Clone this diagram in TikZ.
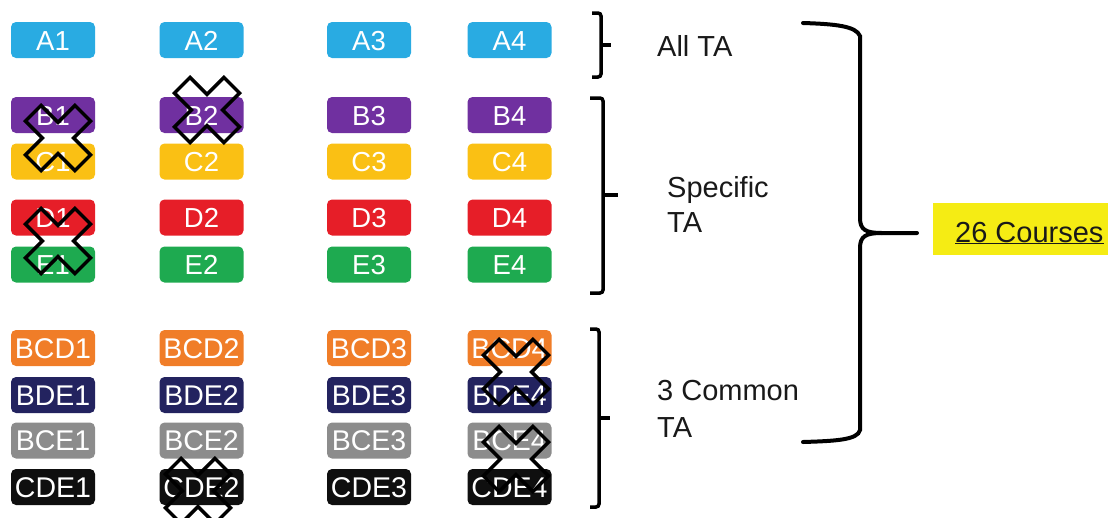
\documentclass[tikz,border=0pt]{standalone}
\usepackage{fontspec}
\setmainfont{Liberation Sans}
\begin{document}
\begin{tikzpicture}[x=1pt,y=-1pt,
  tag/.style={rounded corners=5pt, inner sep=0pt, minimum width=84pt, minimum height=36pt,
    text=white, text height=20pt, text depth=0pt, font=\fontsize{27.5}{30}\selectfont},
  tagw/.style={tag, font=\fontsize{28.5}{30}\selectfont},
  bracket/.style={line width=3.5pt, rounded corners=3pt},
  bigbrace/.style={line width=4pt, line cap=round},
  xline/.style={line width=3.5pt, draw=black, line join=miter},
  lbl/.style={anchor=base west, inner sep=0pt, text=black!90, font=\fontsize{29}{35}\selectfont},
  xmark/.pic={\draw[xline] (-11,-35) -- (11,-35) -- (11,-11) -- (35,-11) -- (35,11) -- (11,11)
     -- (11,35) -- (-11,35) -- (-11,11) -- (-35,11) -- (-35,-11) -- (-11,-11) -- cycle;}
]
\definecolor{cA}{RGB}{41,171,226}
\definecolor{cB}{RGB}{112,48,160}
\definecolor{cC}{RGB}{250,192,20}
\definecolor{cD}{RGB}{230,30,40}
\definecolor{cE}{RGB}{30,170,80}
\definecolor{cBCD}{RGB}{240,125,40}
\definecolor{cBDE}{RGB}{35,35,95}
\definecolor{cBCE}{RGB}{140,140,140}
\definecolor{cCDE}{RGB}{15,15,15}
\definecolor{hilite}{RGB}{245,236,20}
\useasboundingbox (0,0) rectangle (1118,517);

% column x positions
\def\ca{53} \def\cb{201.5} \def\cc{369} \def\cd{509.5}

% single-letter course groups
\foreach \r/\y in {A/40, B/115, C/161.5, D/217.5, E/264.5}{
  \foreach \k/\x in {1/\ca, 2/\cb, 3/\cc, 4/\cd}{
    \node[tag, fill=c\r] (\r\k) at (\x,\y) {\r\k};
  }
}
% combined course groups
\foreach \r/\y in {BCD/348, BDE/395, BCE/440.5, CDE/487}{
  \foreach \k/\x in {1/\ca, 2/\cb, 3/\cc, 4/\cd}{
    \node[tagw, fill=c\r] (\r\k) at (\x,\y) {\r\k};
  }
}

% crossed-out courses
\pic[rotate=45] at (58,138) {xmark};
\pic[rotate=45] at (207,110) {xmark};
\pic[rotate=45] at (58,241) {xmark};
\pic[rotate=45] at (516,372) {xmark};
\pic[rotate=45] at (516,459) {xmark};
\pic[rotate=45] at (198,491) {xmark};

% group brackets
\draw[bracket] (592,13) -- (601,13) -- (601,77) -- (592,77);
\draw[line width=3.5pt] (601,45) -- (611,45);
\draw[bracket] (590,98) -- (603,98) -- (603,293) -- (590,293);
\draw[line width=3.5pt] (603,195) -- (618,195);
\draw[bracket] (590,329) -- (599,329) -- (599,507) -- (590,507);
\draw[line width=3.5pt] (599,418) -- (610,418);

% group labels
\node[lbl] (allta) at (657,56) {All TA};
\node[lbl] (spec1) at (667,197) {Specific};
\node[lbl] (spec2) at (667,232) {TA};
\node[lbl] (comm1) at (657,400) {3 Common};
\node[lbl] (comm2) at (657,437) {TA};

% large brace
\draw[bigbrace] (803,23) .. controls (835,24) and (856,26) .. (860,36) -- (860,218)
  .. controls (860,230) and (866,233) .. (882,233) -- (917,233);
\draw[bigbrace] (882,233) .. controls (866,233) and (860,236) .. (860,248) -- (860,430)
  .. controls (858,440) and (835,441) .. (803,442);

% total
\fill[hilite] (933,203) rectangle (1108,255);
\node[lbl] (total) at (955,242) {\underline{26 Courses}};
\end{tikzpicture}
\end{document}
